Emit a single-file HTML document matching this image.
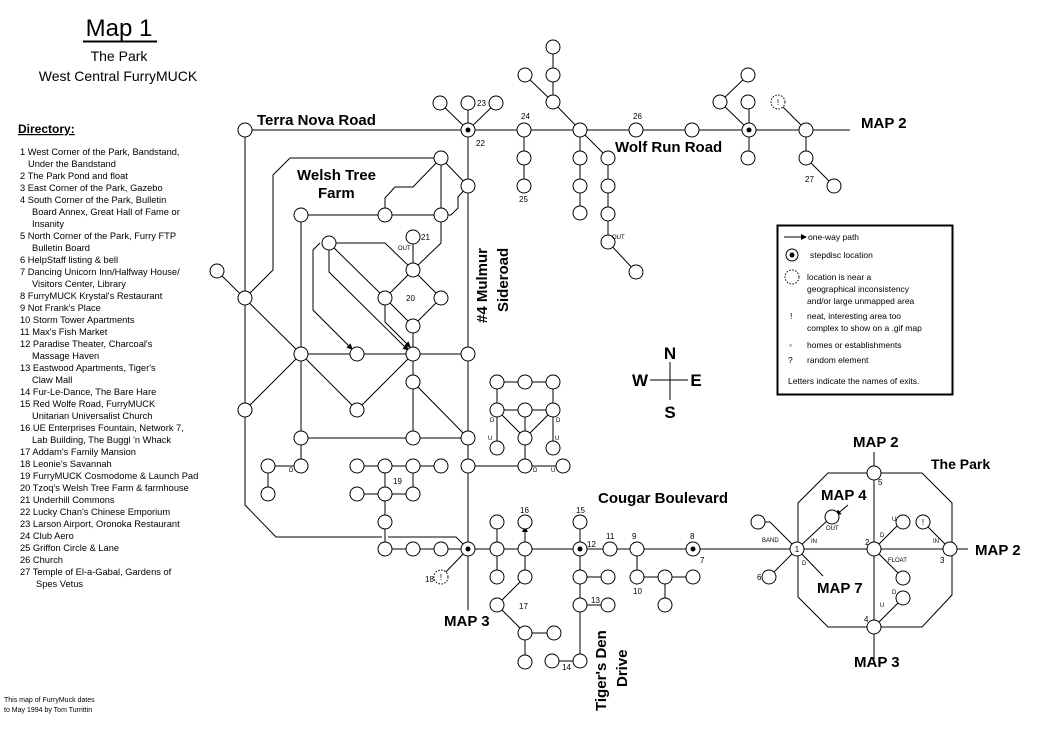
<!DOCTYPE html>
<html><head><meta charset="utf-8"><style>
html,body{margin:0;padding:0;background:#fff}
svg{display:block}
text{font-family:"Liberation Sans",sans-serif;fill:#000}
.l{stroke:#000;stroke-width:1;fill:none}
.n{stroke:#000;stroke-width:1;fill:#fff}
.dt{stroke:#000;stroke-width:1;fill:#fff;stroke-dasharray:1.5 1.5}
.s{font-size:8px}
.t{font-size:7px}
.b{font-weight:bold;font-size:15px}
.d{font-size:9.3px}
</style></head><body>
<svg width="1046" height="731" viewBox="0 0 1046 731" xmlns="http://www.w3.org/2000/svg">
<defs><marker id="a" markerWidth="6" markerHeight="6" refX="5" refY="3" orient="auto"><path d="M0,0 L6,3 L0,6 z" fill="#000"/></marker></defs>
<text x="119" y="36" font-size="24" text-anchor="middle">Map 1</text>
<line x1="83" y1="41.5" x2="157" y2="41.5" stroke="#000" stroke-width="2"/>
<text x="119" y="61" font-size="14" text-anchor="middle">The Park</text>
<text x="118" y="81" font-size="14" text-anchor="middle">West Central FurryMUCK</text>
<text x="18" y="133" font-size="12" font-weight="bold" text-decoration="underline">Directory:</text>
<g class="d">
<text x="20" y="155">1 West Corner of the Park, Bandstand,</text>
<text x="28" y="167">Under the Bandstand</text>
<text x="20" y="179">2 The Park Pond and float</text>
<text x="20" y="191">3 East Corner of the Park, Gazebo</text>
<text x="20" y="203">4 South Corner of the Park, Bulletin</text>
<text x="32" y="215">Board Annex, Great Hall of Fame or</text>
<text x="32" y="227">Insanity</text>
<text x="20" y="239">5 North Corner of the Park, Furry FTP</text>
<text x="32" y="251">Bulletin Board</text>
<text x="20" y="263">6 HelpStaff listing &amp; bell</text>
<text x="20" y="275">7 Dancing Unicorn Inn/Halfway House/</text>
<text x="32" y="287">Visitors Center, Library</text>
<text x="20" y="299">8 FurryMUCK Krystal's Restaurant</text>
<text x="20" y="311">9 Not Frank's Place</text>
<text x="20" y="323">10 Storm Tower Apartments</text>
<text x="20" y="335">11 Max's Fish Market</text>
<text x="20" y="347">12 Paradise Theater, Charcoal's</text>
<text x="32" y="359">Massage Haven</text>
<text x="20" y="371">13 Eastwood Apartments, Tiger's</text>
<text x="32" y="383">Claw Mall</text>
<text x="20" y="395">14 Fur-Le-Dance, The Bare Hare</text>
<text x="20" y="407">15 Red Wolfe Road, FurryMUCK</text>
<text x="32" y="419">Unitarian Universalist Church</text>
<text x="20" y="431">16 UE Enterprises Fountain, Network 7,</text>
<text x="32" y="443">Lab Building, The Buggl 'n Whack</text>
<text x="20" y="455">17 Addam's Family Mansion</text>
<text x="20" y="467">18 Leonie's Savannah</text>
<text x="20" y="479">19 FurryMUCK Cosmodome &amp; Launch Pad</text>
<text x="20" y="491">20 Tzoq's Welsh Tree Farm &amp; farmhouse</text>
<text x="20" y="503">21 Underhill Commons</text>
<text x="20" y="515">22 Lucky Chan's Chinese Emporium</text>
<text x="20" y="527">23 Larson Airport, Oronoka Restaurant</text>
<text x="20" y="539">24 Club Aero</text>
<text x="20" y="551">25 Griffon Circle &amp; Lane</text>
<text x="20" y="563">26 Church</text>
<text x="20" y="575">27 Temple of El-a-Gabal, Gardens of</text>
<text x="36" y="587">Spes Vetus</text>
</g>
<text x="4" y="702" class="t">This map of FurryMuck dates</text>
<text x="4" y="712" class="t">to May 1994 by Tom Turrittin</text>

<g class="l">
<path d="M245,130 H850"/>
<path d="M468,130 L440,103 M468,130 V103 M468,130 L496,103"/>
<path d="M524,130 V186"/>
<path d="M580,130 L553,102 V47 M553,102 L525,75"/>
<path d="M580,130 V213 M580,130 L608,158 V242 L636,272"/>
<path d="M749,130 L720,102 L748,75 M749,130 V102 M749,130 V158"/>
<path d="M806,130 L778,102 M806,130 V158 L834,186"/>
<path d="M245,130 V505 L276,537 H382 M388,537 H456 L468,549"/>
<path d="M217,271 L301,354"/>
<path d="M245,298 L273,270 V175 L290,158 H441"/>
<path d="M441,158 V243 L413,270 M441,158 L468,186"/>
<path d="M441,158 L413,187 H395 L385,198 V215"/>
<path d="M468,186 L458,197 V208 L451,215 H301 V354"/>
<path d="M413,237 V270 L385,298 L413,326 L441,298 L413,270"/>
<path d="M329,243 H385 L413,270 M329,243 L385,298"/>
<path d="M320,243 L313,250 V310 L352,349" marker-end="url(#a)"/>
<path d="M329,243 V272 L408,350" marker-end="url(#a)"/>
<path d="M385,298 V322 L410,347" marker-end="url(#a)"/>
<path d="M413,326 V438"/>
<path d="M301,354 H468 M301,354 L245,410 M301,354 L357,410 L413,354 M301,354 V466"/>
<path d="M413,382 L468,438 M301,438 H468"/>
<path d="M268,466 H301 M268,466 V494"/>
<path d="M357,466 H441 M385,466 V549 M413,466 V494 M357,494 H413"/>
<path d="M385,549 H468"/>
<path d="M468,130 V610"/>
<path d="M468,466 H563"/>
<path d="M497,382 H553 M497,410 H553 M497,382 V448 M553,382 V448 M497,410 L525,438 L553,410 M525,410 V466"/>
<path d="M468,549 L441,577"/>
<path d="M468,549 H797"/>
<path d="M497,522 V577"/>
<path d="M525,549 V577 L497,605 L525,633 H554 M525,633 V662" />
<path d="M525,549 V527" marker-end="url(#a)"/>
<path d="M580,522 V661 H552 M580,577 H608 M580,605 H608"/>
<path d="M637,549 V577 H693 M665,577 V605"/>
<path d="M828,473 H922 L952,503 V595 L922,627 H828 L798,597 V503 Z"/>
<path d="M874,452 V660 M760,549 H968"/>
<path d="M758,522 H770 L797,549 L769,577 M797,549 L823,576"/>
<path d="M797,549 L828,520 M874,549 L902,521 M874,549 L902,577 M874,627 L902,599 M950,549 L923,522"/>
<path d="M848,505 L836,515" marker-end="url(#a)"/>
<path d="M670,362 V400 M650,380 H688"/>
</g>

<g class="n">
<circle cx="245" cy="130" r="7"/><circle cx="524" cy="130" r="7"/><circle cx="580" cy="130" r="7"/><circle cx="636" cy="130" r="7"/><circle cx="692" cy="130" r="7"/><circle cx="806" cy="130" r="7"/>
<circle cx="440" cy="103" r="7"/><circle cx="468" cy="103" r="7"/><circle cx="496" cy="103" r="7"/>
<circle cx="553" cy="47" r="7"/><circle cx="553" cy="75" r="7"/><circle cx="525" cy="75" r="7"/><circle cx="553" cy="102" r="7"/>
<circle cx="524" cy="158" r="7"/><circle cx="524" cy="186" r="7"/>
<circle cx="580" cy="158" r="7"/><circle cx="580" cy="186" r="7"/><circle cx="580" cy="213" r="7"/>
<circle cx="608" cy="158" r="7"/><circle cx="608" cy="186" r="7"/><circle cx="608" cy="214" r="7"/><circle cx="608" cy="242" r="7"/><circle cx="636" cy="272" r="7"/>
<circle cx="748" cy="75" r="7"/><circle cx="720" cy="102" r="7"/><circle cx="748" cy="102" r="7"/><circle cx="748" cy="158" r="7"/>
<circle cx="806" cy="158" r="7"/><circle cx="834" cy="186" r="7"/>
<circle cx="245" cy="298" r="7"/><circle cx="217" cy="271" r="7"/><circle cx="245" cy="410" r="7"/>
<circle cx="441" cy="158" r="7"/><circle cx="468" cy="186" r="7"/><circle cx="441" cy="215" r="7"/><circle cx="385" cy="215" r="7"/><circle cx="301" cy="215" r="7"/>
<circle cx="413" cy="237" r="7"/><circle cx="329" cy="243" r="7"/><circle cx="413" cy="270" r="7"/><circle cx="385" cy="298" r="7"/><circle cx="441" cy="298" r="7"/><circle cx="413" cy="326" r="7"/>
<circle cx="301" cy="354" r="7"/><circle cx="357" cy="354" r="7"/><circle cx="413" cy="354" r="7"/><circle cx="468" cy="354" r="7"/>
<circle cx="357" cy="410" r="7"/><circle cx="413" cy="382" r="7"/>
<circle cx="301" cy="438" r="7"/><circle cx="413" cy="438" r="7"/><circle cx="468" cy="438" r="7"/>
<circle cx="268" cy="466" r="7"/><circle cx="301" cy="466" r="7"/><circle cx="268" cy="494" r="7"/>
<circle cx="357" cy="466" r="7"/><circle cx="385" cy="466" r="7"/><circle cx="413" cy="466" r="7"/><circle cx="441" cy="466" r="7"/>
<circle cx="357" cy="494" r="7"/><circle cx="385" cy="494" r="7"/><circle cx="413" cy="494" r="7"/><circle cx="385" cy="522" r="7"/>
<circle cx="385" cy="549" r="7"/><circle cx="413" cy="549" r="7"/><circle cx="441" cy="549" r="7"/>
<circle cx="468" cy="466" r="7"/><circle cx="525" cy="466" r="7"/><circle cx="563" cy="466" r="7"/>
<circle cx="497" cy="382" r="7"/><circle cx="525" cy="382" r="7"/><circle cx="553" cy="382" r="7"/>
<circle cx="497" cy="410" r="7"/><circle cx="525" cy="410" r="7"/><circle cx="553" cy="410" r="7"/><circle cx="525" cy="438" r="7"/>
<circle cx="497" cy="448" r="7"/><circle cx="553" cy="448" r="7"/>
<circle cx="497" cy="522" r="7"/><circle cx="497" cy="549" r="7"/><circle cx="497" cy="577" r="7"/>
<circle cx="525" cy="522" r="7"/><circle cx="525" cy="549" r="7"/><circle cx="525" cy="577" r="7"/><circle cx="497" cy="605" r="7"/><circle cx="525" cy="633" r="7"/><circle cx="554" cy="633" r="7"/><circle cx="525" cy="662" r="7"/>
<circle cx="580" cy="522" r="7"/><circle cx="580" cy="577" r="7"/><circle cx="608" cy="577" r="7"/><circle cx="580" cy="605" r="7"/><circle cx="608" cy="605" r="7"/><circle cx="580" cy="661" r="7"/><circle cx="552" cy="661" r="7"/>
<circle cx="610" cy="549" r="7"/><circle cx="637" cy="549" r="7"/><circle cx="637" cy="577" r="7"/><circle cx="665" cy="577" r="7"/><circle cx="693" cy="577" r="7"/><circle cx="665" cy="605" r="7"/>
<circle cx="874" cy="473" r="7"/><circle cx="797" cy="549" r="7"/><circle cx="874" cy="549" r="7"/><circle cx="950" cy="549" r="7"/><circle cx="874" cy="627" r="7"/>
<circle cx="832" cy="517" r="7"/><circle cx="903" cy="522" r="7"/><circle cx="923" cy="522" r="7"/><circle cx="903" cy="578" r="7"/><circle cx="903" cy="598" r="7"/>
<circle cx="758" cy="522" r="7"/><circle cx="769" cy="577" r="7"/>
</g>
<g class="n">
<circle cx="468" cy="130" r="7"/><circle cx="749" cy="130" r="7"/><circle cx="468" cy="549" r="7"/><circle cx="580" cy="549" r="7"/><circle cx="693" cy="549" r="7"/>
</g>
<g fill="#000">
<circle cx="468" cy="130" r="2.5"/><circle cx="749" cy="130" r="2.5"/><circle cx="468" cy="549" r="2.5"/><circle cx="580" cy="549" r="2.5"/><circle cx="693" cy="549" r="2.5"/>
</g>
<circle cx="778" cy="102" r="7" class="dt"/><circle cx="441" cy="577" r="7" class="dt"/>
<g class="s" text-anchor="middle">
<text x="778" y="105">!</text><text x="441" y="580">!</text><text x="923" y="525">!</text><text x="797" y="552">1</text>
</g>

<g class="s">
<text x="477" y="106">23</text><text x="476" y="146">22</text><text x="521" y="119">24</text><text x="519" y="202">25</text>
<text x="633" y="119">26</text><text x="805" y="182">27</text>
<text x="421" y="240">21</text><text x="406" y="301">20</text><text x="393" y="484">19</text>
<text x="520" y="513">16</text><text x="576" y="513">15</text><text x="587" y="547">12</text><text x="606" y="539">11</text><text x="632" y="539">9</text><text x="690" y="539">8</text><text x="700" y="563">7</text>
<text x="633" y="594">10</text><text x="591" y="603">13</text><text x="562" y="670">14</text><text x="519" y="609">17</text><text x="425" y="582">18</text>
<text x="878" y="485">5</text><text x="865" y="545">2</text><text x="940" y="563">3</text><text x="864" y="622">4</text><text x="757" y="580">6</text>
</g>
<g font-size="6" font-family="Liberation Sans,sans-serif">
<text x="398" y="250">OUT</text><text x="612" y="239">OUT</text><text x="826" y="530">OUT</text>
<text x="289" y="472">D</text><text x="490" y="422">D</text><text x="488" y="440">U</text><text x="556" y="422">D</text><text x="555" y="440">U</text>
<text x="533" y="472">D</text><text x="551" y="472">U</text>
<text x="762" y="542">BAND</text><text x="811" y="543">IN</text><text x="802" y="565">D</text>
<text x="880" y="537">D</text><text x="892" y="521">U</text><text x="888" y="562">FLOAT</text><text x="880" y="607">U</text><text x="892" y="594">D</text><text x="933" y="543">IN</text>
</g>
<g class="b">
<text x="257" y="125">Terra Nova Road</text>
<text x="615" y="152">Wolf Run Road</text>
<text x="297" y="180">Welsh Tree</text>
<text x="318" y="198">Farm</text>
<text x="598" y="503">Cougar Boulevard</text>
<text x="444" y="626">MAP 3</text>
<text x="861" y="128">MAP 2</text>
<text x="853" y="447">MAP 2</text>
<text x="931" y="469" font-size="14">The Park</text>
<text x="821" y="500">MAP 4</text>
<text x="817" y="593">MAP 7</text>
<text x="975" y="555">MAP 2</text>
<text x="854" y="667">MAP 3</text>
<text transform="translate(487,323) rotate(-90)">#4 Mulmur</text>
<text transform="translate(508,312) rotate(-90)">Sideroad</text>
<text transform="translate(606,711) rotate(-90)">Tiger's Den</text>
<text transform="translate(627,687) rotate(-90)">Drive</text>
</g>
<g font-family="Liberation Serif,serif" font-weight="bold" font-size="17" text-anchor="middle">
<text x="670" y="359">N</text><text x="670" y="418">S</text><text x="640" y="386">W</text><text x="696" y="386">E</text>
</g>
<rect x="777.5" y="225.5" width="175" height="169" fill="none" stroke="#000" stroke-width="2"/>
<line x1="784" y1="237" x2="806" y2="237" stroke="#000" marker-end="url(#a)"/>
<circle cx="792" cy="255" r="6" class="n"/><circle cx="792" cy="255" r="2.5"/>
<circle cx="792" cy="277" r="7" class="dt"/>
<g font-size="8.5" font-family="Liberation Sans,sans-serif">
<text x="808" y="240">one-way path</text>
<text x="810" y="258">stepdisc location</text>
<text x="807" y="280">location is near a</text>
<text x="807" y="292">geographical inconsistency</text>
<text x="807" y="304">and/or large unmapped area</text>
<text x="790" y="319">!</text><text x="807" y="319">neat, interesting area too</text>
<text x="807" y="331">complex to show on a .gif map</text>
<text x="789" y="348">▫</text><text x="807" y="348">homes or establishments</text>
<text x="788" y="363">?</text><text x="807" y="363">random element</text>
<text x="788" y="384">Letters indicate the names of exits.</text>
</g>
</svg>
</body></html>
